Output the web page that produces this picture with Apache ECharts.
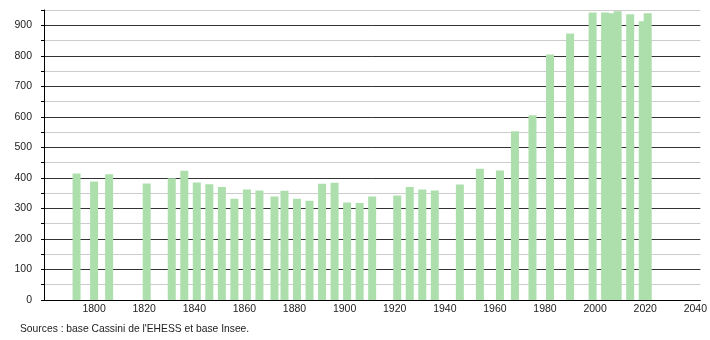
<!DOCTYPE html>
<html>
<head>
<meta charset="utf-8">
<script src="https://cdn.jsdelivr.net/npm/echarts@6/dist/echarts.min.js"></script>
<style>html,body{margin:0;padding:0;background:#fff;}#c{width:710px;height:340px;}</style>
</head>
<body>
<div id="c"></div>
<script>
const years = [1793,1800,1806,1821,1831,1836,1841,1846,1851,1856,1861,1866,1872,1876,1881,1886,1891,1896,1901,1906,1911,1921,1926,1931,1936,1946,1954,1962,1968,1975,1982,1990,1999,2004,2006,2009,2014,2019,2021];
const population = [414,388,412,382,399,423,385,379,370,332,362,359,339,358,332,325,381,384,319,318,339,342,370,362,359,378,430,424,553,605,804,873,942,942,939,946,936,913,939];
const sourceText = "Sources : base Cassini de l'EHESS et base Insee.";

const chart = echarts.init(document.getElementById('c'), null, {renderer: 'canvas'});
const font = '"Liberation Sans", Arial, sans-serif';
chart.setOption({
  animation: false,
  backgroundColor: '#ffffff',
  grid: {left: 44, right: 9, top: 10, bottom: 40},
  xAxis: {
    type: 'value', min: 1780, max: 2042, interval: 20,
    axisLine: {show: true, lineStyle: {color: '#000', width: 1}},
    axisTick: {show: false},
    splitLine: {show: false},
    axisLabel: {
      showMinLabel: false, color: '#222', fontSize: 10.5, fontFamily: font, margin: 4,
      formatter: v => (v % 20 === 0 ? String(v) : '')
    }
  },
  yAxis: {
    type: 'value', min: 0, max: 950, interval: 50,
    axisLine: {show: true, lineStyle: {color: '#000', width: 1}},
    axisTick: {show: true, length: 3, lineStyle: {color: '#000'}},
    splitLine: {show: true, lineStyle: {color: ['#333333', '#cccccc'], width: 1}},
    axisLabel: {
      color: '#222', fontSize: 10.5, fontFamily: font, margin: 12,
      formatter: v => (v % 100 === 0 ? String(v) : '')
    }
  },
  series: [{
    type: 'bar',
    data: years.map((y, i) => [y, population[i]]),
    barWidth: 8,
    itemStyle: {color: '#addfad'},
    z: 3
  }],
  graphic: [{
    type: 'text', left: 20, top: 324,
    style: {text: sourceText, fill: '#222', font: '10.3px ' + font}
  }]
});
</script>
</body>
</html>
